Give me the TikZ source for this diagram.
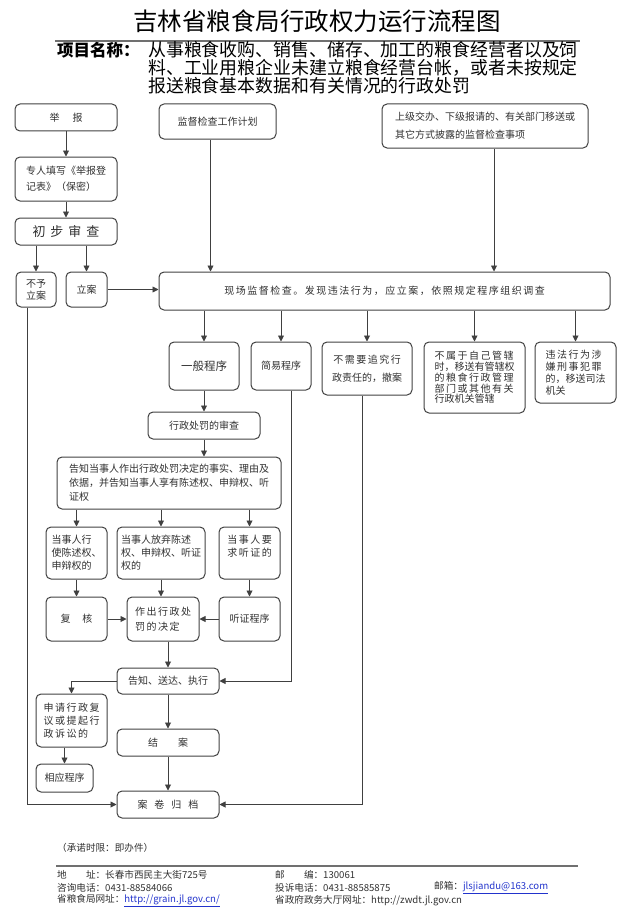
\documentclass[tikz,border=0pt]{standalone}
\usepackage{fontspec}
\setmainfont{Noto Sans CJK SC}
\newfontfamily\spaced[LetterSpace=15]{Noto Sans CJK SC}
\usetikzlibrary{arrows.meta, positioning, calc}
\definecolor{linegray}{HTML}{404040}
\definecolor{textgray}{HTML}{303030}
\definecolor{rulegray}{HTML}{707070}
\definecolor{linkblue}{HTML}{2233CC}
\tikzstyle{box} = [rectangle, rounded corners=5pt, draw=linegray, line width=1pt, text=textgray, inner sep=0pt, align=center, font=\fontsize{10}{13}\selectfont]
\tikzstyle{line} = [draw=linegray, line width=0.9pt]
\tikzstyle{arrow} = [line, -{Triangle[length=6pt,width=6pt]}]
\tikzstyle{foot} = [anchor=west, inner sep=0pt, text=textgray, font=\fontsize{9.6}{11}\selectfont]

\begin{document}
\begin{tikzpicture}[x=1pt, y=-1pt]
    \useasboundingbox (0,0) rectangle (640,923);

    % title and project name
    \node[text=black, font=\fontsize{24.5}{26}\selectfont] (title) at (317,21) {吉林省粮食局行政权力运行流程图};
    \draw[rulegray, line width=1.8pt] (55,41) -- (580,41);
    \node[anchor=west, inner sep=0pt, font=\fontsize{16.5}{18}\selectfont\bfseries] (xiangmu) at (57,50) {项目名称：};
    \node[anchor=north west, inner sep=0pt, align=left, font=\fontsize{17.9}{18}\selectfont] (mingcheng) at (148,41.5) {从事粮食收购、销售、储存、加工的粮食经营者以及饲\\料、工业用粮企业未建立粮食经营台帐，或者未按规定\\报送粮食基本数据和有关情况的行政处罚};

    % top row
    \node[box, minimum width=102pt, minimum height=27pt] (jubao) at (66,117.5) {举\hspace{1.3em}报};
    \node[box, minimum width=117pt, minimum height=35pt] (jihua) at (217.5,121.5) {监督检查工作计划};
    \node[box, minimum width=206pt, minimum height=44pt, align=left, font=\fontsize{10}{18}\selectfont] (jiaoban) at (485,126) {上级交办、下级报请的、有关部门移送或\\其它方式披露的监督检查事项};
    \node[box, minimum width=102pt, minimum height=44pt, align=left, font=\fontsize{10}{16}\selectfont] (tianxie) at (66,179) {专人填写《举报登\\记表》（保密）};
    \node[box, minimum width=102pt, minimum height=27pt, font=\fontsize{13}{15}\selectfont] (chubu) at (66,231.5) {初\hspace{5pt}步\hspace{5pt}审\hspace{5pt}查};
    \node[box, minimum width=40pt, minimum height=35pt, font=\fontsize{10}{12}\selectfont] (buyu) at (36,289.5) {不予\\立案};
    \node[box, minimum width=41pt, minimum height=35pt] (lian) at (86.5,289.5) {立案};
    \node[box, minimum width=451pt, minimum height=38pt] (xianchang) at (384.5,291) {\spaced 现场监督检查。发现违法行为，应立案，依照规定程序组织调查};

    % second row
    \node[box, minimum width=70pt, minimum height=48pt, font=\fontsize{11.5}{13}\selectfont] (yiban) at (204,366) {一般程序};
    \node[box, minimum width=60pt, minimum height=48pt] (jianyi) at (281,366) {简易程序};
    \node[box, minimum width=90pt, minimum height=53pt] (chexiao) at (367,368.5) {{\spaced 不需要追究行}\\[5pt]政责任的，撤案};
    \node[box, minimum width=101pt, minimum height=71pt, align=left, font=\fontsize{10}{10.8}\selectfont] (yisong) at (474.5,377.5) {{\spaced 不属于自己管辖}\\时，移送有管辖权\\{\spaced 的粮食行政管理}\\{\spaced 部门或其他有关}\\行政机关管辖};
    \node[box, minimum width=81pt, minimum height=61pt, align=left, font=\fontsize{10}{12}\selectfont] (sifa) at (575.5,372.5) {{\spaced 违法行为涉}\\{\spaced 嫌刑事犯罪}\\的，移送司法\\机关};

    % general procedure
    \node[box, minimum width=112pt, minimum height=27pt] (shencha) at (204,425.5) {行政处罚的审查};
    \node[box, minimum width=224pt, minimum height=52pt, align=left, font=\fontsize{10}{14}\selectfont] (gaozhi) at (169,483) {告知当事人作出行政处罚决定的事实、理由及\\依据，并告知当事人享有陈述权、申辩权、听\\证权};
    \node[box, minimum width=61pt, minimum height=52pt, align=left] (chenshu) at (76.5,553) {当事人行\\使陈述权、\\申辩权的};
    \node[box, minimum width=88pt, minimum height=52pt, align=left] (fangqi) at (161,553) {当事人放弃陈述\\权、申辩权、听证\\权的};
    \node[box, minimum width=61pt, minimum height=52pt, align=left] (tingzheng) at (249.5,553) {{\spaced 当事人要}\\{\spaced 求听证的}\\\phantom{求}};
    \node[box, minimum width=61pt, minimum height=44pt] (fuhe) at (76.5,619) {复\hspace{1.2em}核};
    \node[box, minimum width=72pt, minimum height=44pt, align=left, font=\fontsize{10}{15}\selectfont] (jueding) at (163,619) {{\spaced 作出行政处}\\{\spaced 罚的决定}};
    \node[box, minimum width=61pt, minimum height=44pt] (tzcx) at (249.5,619) {听证程序};
    \node[box, minimum width=102pt, minimum height=26pt] (zhixing) at (168,681) {告知、送达、执行};
    \node[box, minimum width=71pt, minimum height=53pt, align=left] (fuyi) at (71.5,720.5) {{\spaced 申请行政复}\\{\spaced 议或提起行}\\{\spaced 政诉讼的}};
    \node[box, minimum width=102pt, minimum height=27pt] (jiean) at (168,742.5) {结\hspace{2em}案};
    \node[box, minimum width=57pt, minimum height=28pt] (xiangying) at (64.5,778) {相应程序};
    \node[box, minimum width=102pt, minimum height=27pt] (guidang) at (168,804.5) {案\hspace{0.7em}卷\hspace{0.7em}归\hspace{0.7em}档};

    % connectors
    \draw[arrow] (jubao) -- (tianxie);
    \draw[arrow] (tianxie) -- (chubu);
    \draw[arrow] (chubu.south -| buyu) -- (buyu);
    \draw[arrow] (chubu.south -| lian) -- (lian);
    \draw[arrow] (lian.east) -- (lian.east -| xianchang.west);
    \draw[arrow] ([xshift=-7pt]jihua.south) -- ([xshift=-7pt]jihua.south |- xianchang.north);
    \draw[arrow] ([xshift=9pt]jiaoban.south) -- ([xshift=9pt]jiaoban.south |- xianchang.north);
    \draw[arrow] (xianchang.south -| yiban) -- (yiban);
    \draw[arrow] (xianchang.south -| jianyi) -- (jianyi);
    \draw[arrow] (xianchang.south -| chexiao) -- (chexiao);
    \draw[arrow] (xianchang.south -| yisong) -- (yisong);
    \draw[arrow] (xianchang.south -| sifa) -- (sifa);
    \draw[arrow] (yiban) -- (shencha);
    \draw[arrow] (shencha) -- (shencha |- gaozhi.north);
    \draw[arrow] (gaozhi.south -| chenshu) -- (chenshu);
    \draw[arrow] (gaozhi.south -| fangqi) -- (fangqi);
    \draw[arrow] (gaozhi.south -| tingzheng) -- (tingzheng);
    \draw[arrow] (chenshu) -- (fuhe);
    \draw[arrow] (fangqi) -- (fangqi |- jueding.north);
    \draw[arrow] (tingzheng) -- (tzcx);
    \draw[arrow] (fuhe) -- (jueding);
    \draw[arrow] (tzcx) -- (jueding);
    \draw[arrow] (jueding.south -| zhixing) -- (zhixing);
    \draw[arrow] ([xshift=10pt]jianyi.south) |- (zhixing.east);
    \draw[arrow] (zhixing.west) -| (fuyi.north);
    \draw[arrow] (zhixing) -- (jiean);
    \draw[arrow] (jiean) -- (guidang);
    \draw[arrow] (fuyi.south -| xiangying) -- (xiangying);
    \draw[arrow] ([xshift=-9pt]buyu.south) |- (guidang.west);
    \draw[arrow] ([xshift=-5pt]chexiao.south) |- (guidang.east);

    % footer
    \node[foot] (shixian) at (57,848) {（承诺时限：即办件）};
    \draw[rulegray, line width=2.5pt] (56,866) -- (578,866);
    \node[foot] (dizhi) at (57,875) {地\hspace{2em}址：长春市西民主大街725号};
    \node[foot] (youbian) at (275,875) {邮\hspace{2em}编：130061};
    \node[foot] (zixun) at (57,888) {咨询电话：0431-88584066};
    \node[foot] (tousu) at (275,888) {投诉电话：0431-88585875};
    \node[foot] (youxiang) at (434,888) {邮箱：\textcolor{linkblue}{\underline{jlsjiandu@163.com}}};
    \node[foot] (wangzhi) at (57,901) {省粮食局网址：\textcolor{linkblue}{\underline{http://grain.jl.gov.cn/}}};
    \node[foot] (dating) at (275,901) {省政府政务大厅网址：http://zwdt.jl.gov.cn};
\end{tikzpicture}
\end{document}
